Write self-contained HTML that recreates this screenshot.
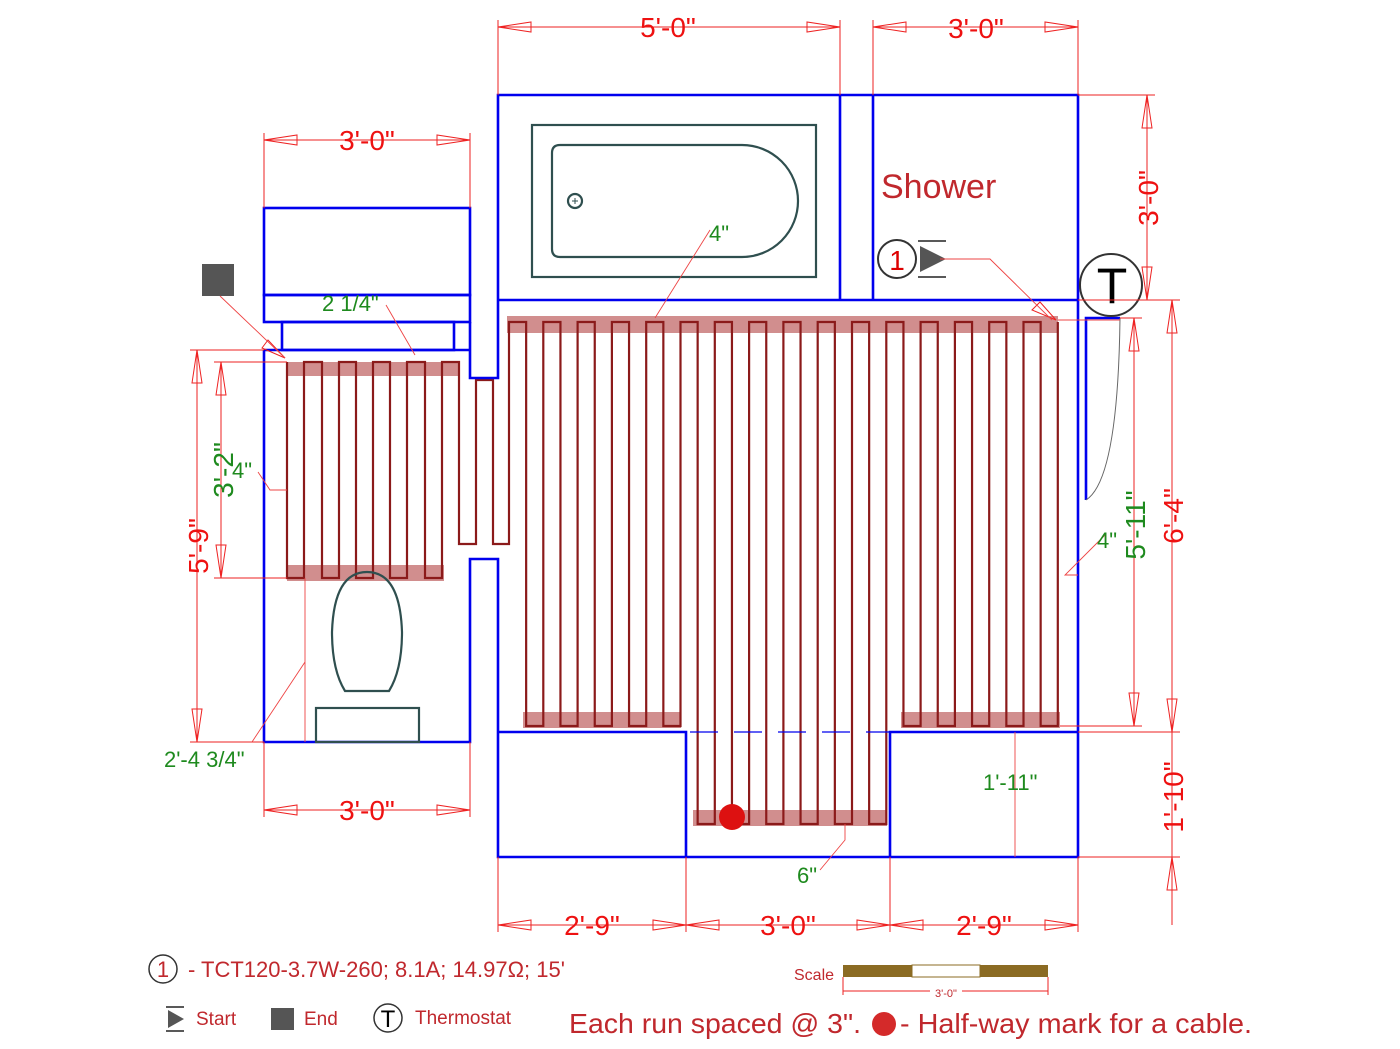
<!DOCTYPE html>
<html><head><meta charset="utf-8"><style>
html,body{margin:0;padding:0;background:#fff;}
svg{display:block;font-family:"Liberation Sans",sans-serif;}
</style></head><body>
<svg id="s" width="1400" height="1049" viewBox="0 0 1400 1049" xmlns="http://www.w3.org/2000/svg">
<g id="bands" fill="#c97a7a" opacity="0.85">
<rect x="507" y="316" width="551" height="17"/>
<rect x="287" y="362" width="172" height="14"/>
<rect x="287" y="565" width="157" height="16"/>
<rect x="523" y="712" width="158" height="16"/>
<rect x="693" y="810" width="194" height="16"/>
<rect x="901" y="712" width="159" height="16"/>
</g>
<path id="cable" fill="none" stroke="#8b1a1a" stroke-width="2.2"/>
<g fill="none" stroke="#0000ee" stroke-width="2.6">
<rect x="264" y="208" width="206" height="87"/>
<rect x="264" y="295" width="206" height="27"/>
<rect x="282" y="322" width="172" height="28"/>
<path d="M470 322 V350 M264 350 H470 M264 350 V742 H470 V559 H498 V857 H1078 V95 H498 V378 H470 V322"/>
<path d="M498 300 H1078 M840 95 V300 M873 95 V300 M498 732 H686 V857 M890 857 V732 H1078"/>
<path d="M1086 500 V318 H1120"/>
</g>
<path d="M690 732 H1078" stroke="#0000ee" stroke-width="1.3" stroke-dasharray="28,16"/>
<path d="M1086 500 Q1118 480 1120 318" fill="none" stroke="#666" stroke-width="1"/>
<g fill="none" stroke="#2f4f4f" stroke-width="2.2">
<rect x="532" y="125" width="284" height="152"/>
<path d="M560 145 H742 A56 56 0 0 1 742 257 H560 Q552 257 552 249 V153 Q552 145 560 145 Z"/>
<circle cx="575" cy="201" r="7"/>
<path d="M345 691 H389 Q402 670 402 632 Q400 572 367 572 Q334 572 332 632 Q332 670 345 691 Z"/>
<rect x="316" y="708" width="103" height="34"/>
</g>
<line x1="572" y1="201" x2="578" y2="201" stroke="#2f4f4f" stroke-width="1"/>
<line x1="575" y1="198" x2="575" y2="204" stroke="#2f4f4f" stroke-width="1"/>
<circle cx="732" cy="817" r="13" fill="#dd1111"/>
<rect x="202" y="264" width="32" height="32" fill="#555"/>
<g stroke="#333" stroke-width="2" fill="none"><circle cx="897" cy="259" r="19"/><circle cx="1111" cy="285" r="31"/></g>
<text x="897" y="270" font-size="28" fill="#d00" text-anchor="middle">1</text>
<text x="1112" y="303" font-size="50" fill="#000" text-anchor="middle">T</text>
<polygon points="920,246 946,259 920,272" fill="#555"/>
<path d="M918 241 H946 M918 277 H946" stroke="#222" stroke-width="1.5"/>
<text x="881" y="198" font-size="34" fill="#c0282d">Shower</text>
<g id="dims" stroke="#ee2222" stroke-width="1" fill="none"></g>
<g id="leaders" stroke="#ee4444" stroke-width="0.9" fill="none">
<path d="M710 230 L655 318"/>
<path d="M386 305 L415 355"/>
<path d="M258 472 L270 490 H287"/>
<path d="M1105 535 L1065 575 H1078"/>
<path d="M252 742 L305 662 M305 662 V742 M305 578 V742"/>
<path d="M820 870 L845 840 V824"/>
<path d="M1015 732 V857"/>
<path d="M220 296 L285 358 M940 259 H990 L1052 320"/>
<path d="M1058 320 H1120"/>
</g>
<g font-size="22" fill="#1e8a1e">
<text x="709" y="241">4"</text>
<text x="322" y="311">2 1/4"</text>
<text x="232" y="478">4"</text>
<text x="1097" y="548">4"</text>
<text x="164" y="767">2'-4 3/4"</text>
<text x="983" y="790">1'-11"</text>
<text x="797" y="883">6"</text>
<text transform="translate(233,470) rotate(-90)" text-anchor="middle" font-size="28">3'-2"</text>
<text transform="translate(1145,525) rotate(-90)" text-anchor="middle" font-size="28">5'-11"</text>
</g>
<g font-size="28" fill="#ee1111" text-anchor="middle">
<text x="668" y="37">5'-0"</text>
<text x="976" y="38">3'-0"</text>
<text x="367" y="150">3'-0"</text>
<text x="367" y="820">3'-0"</text>
<text x="592" y="935">2'-9"</text>
<text x="788" y="935">3'-0"</text>
<text x="984" y="935">2'-9"</text>
<text transform="translate(1158,198) rotate(-90)">3'-0"</text>
<text transform="translate(1183,516) rotate(-90)">6'-4"</text>
<text transform="translate(1183,797) rotate(-90)">1'-10"</text>
<text transform="translate(208,546) rotate(-90)">5'-9"</text>
</g>
<circle cx="163" cy="969" r="14" fill="none" stroke="#333" stroke-width="1.5"/>
<text x="163" y="977" font-size="22" fill="#c0282d" text-anchor="middle">1</text>
<text x="188" y="977" font-size="22" fill="#c0282d">- TCT120-3.7W-260; 8.1A; 14.97Ω; 15'</text>
<polygon points="168,1010 184,1019 168,1028" fill="#555"/>
<path d="M166 1007 H184 M166 1031 H184" stroke="#222" stroke-width="1.5"/>
<text x="196" y="1025" font-size="19" fill="#c0282d">Start</text>
<rect x="271" y="1008" width="23" height="22" fill="#555"/>
<text x="304" y="1025" font-size="19" fill="#c0282d">End</text>
<circle cx="388" cy="1018" r="14" fill="none" stroke="#333" stroke-width="1.5"/>
<text x="388" y="1027" font-size="24" fill="#000" text-anchor="middle">T</text>
<text x="415" y="1024" font-size="19" fill="#c0282d">Thermostat</text>
<text x="569" y="1033" font-size="28" fill="#c0282d" textLength="292" lengthAdjust="spacingAndGlyphs">Each run spaced @ 3".</text>
<circle cx="884" cy="1024" r="12" fill="#d42a2a"/>
<text x="900" y="1033" font-size="28" fill="#c0282d" textLength="352" lengthAdjust="spacingAndGlyphs">- Half-way mark for a cable.</text>
<text x="794" y="980" font-size="16" fill="#c0282d">Scale</text>
<rect x="843" y="965" width="69" height="12" fill="#8b6b23"/>
<rect x="912" y="965" width="68" height="12" fill="#fff" stroke="#8b6b23" stroke-width="1"/>
<rect x="980" y="965" width="68" height="12" fill="#8b6b23"/>
<path d="M843 977 V995 M1048 977 V995 M843 991 H1048" stroke="#e22" stroke-width="1"/>
<rect x="930" y="986" width="32" height="10" fill="#fff"/>
<text x="946" y="997" font-size="11" fill="#c0282d" text-anchor="middle">3'-0"</text>
</svg>
<script>
(function(){
var NS="http://www.w3.org/2000/svg";
var xs=[];for(var k=0;k<33;k++)xs.push(509+k*17.15);
function bot(i){return (i>=11&&i<=22)?824:726;}
var d="M"+xs[32]+" 322";
for(var i=32;i>=1;i--){
  var goingDown=((32-i)%2===0);
  d+= goingDown?(" V"+bot(i)):" V322";
  d+=" H"+xs[i-1];
}
d+=" V544 H493 V380 H476 V544 H459 V362";
var lx=[442,425,407,390,373,356,339,322,304,287];
var top=true;
for(var j=0;j<lx.length;j++){
  d+=" H"+lx[j];
  d+= top?" V578":" V362";
  top=!top;
}
document.getElementById("cable").setAttribute("d",d);
var g=document.getElementById("dims");
function el(t,a){var e=document.createElementNS(NS,t);for(var k in a)e.setAttribute(k,a[k]);g.appendChild(e);return e;}
function line(x1,y1,x2,y2){el("line",{x1:x1,y1:y1,x2:x2,y2:y2});}
function arr(x,y,dx,dy){var L=33,W=5;var bx=x-dx*L,by=y-dy*L;var px=-dy*W,py=dx*W;
  el("polygon",{points:x+","+y+" "+(bx+px)+","+(by+py)+" "+(bx-px)+","+(by-py)});}
function hd(x1,x2,y,e1,e2){line(x1,y,x2,y);arr(x1,y,-1,0);arr(x2,y,1,0);line(x1,y-7,x1,e1);line(x2,y-7,x2,e2);}
function vd(y1,y2,x){line(x,y1,x,y2);arr(x,y1,0,-1);arr(x,y2,0,1);}
hd(498,840,27,95,95);hd(873,1078,27,95,95);hd(264,470,140,208,208);
function hb(x1,x2,y,e){line(x1,y,x2,y);arr(x1,y,-1,0);arr(x2,y,1,0);line(x1,e,x1,y+7);line(x2,e,x2,y+7);}
hb(264,470,810,742);hb(498,686,925,857);hb(686,890,925,857);hb(890,1078,925,857);
vd(95,300,1147);line(1078,95,1155,95);line(1078,300,1180,300);
vd(300,732,1172);line(1078,732,1180,732);
line(1172,732,1172,925);arr(1172,857,0,-1);line(1078,857,1180,857);
vd(318,726,1134);line(1120,318,1142,318);line(1060,726,1142,726);
vd(350,742,197);line(190,350,264,350);line(190,742,264,742);
vd(362,578,221);line(214,362,287,362);line(214,578,287,578);
el("polygon",{points:"285,358 262,348 268,340"});
el("polygon",{points:"1056,320 1032,310 1040,302"});
})();
</script>
</body></html>
